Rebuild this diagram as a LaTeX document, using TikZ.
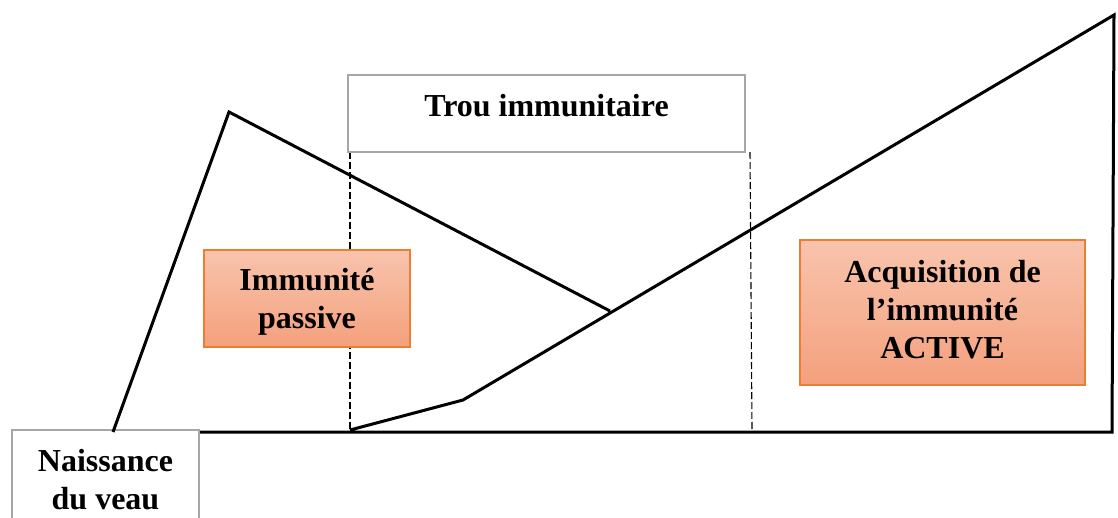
\documentclass[tikz,border=0pt]{standalone}
\usepackage{fontspec}
\setmainfont{Liberation Serif}
\definecolor{boxtop}{HTML}{F8C4AD}
\definecolor{boxbot}{HTML}{F4A07D}
\definecolor{boxedge}{HTML}{ED7D31}
\begin{document}
\begin{tikzpicture}[x=1pt,y=-1pt,
  curve/.style={line width=3pt,line join=miter},
  guide/.style={line width=1.1pt,dash pattern=on 7pt off 3pt},
  graybox/.style={draw=black!35,line width=1.2pt,fill=white},
  orangebox/.style={draw=boxedge,line width=1.2pt,top color=boxtop,bottom color=boxbot},
  lbl/.style={align=center,font=\bfseries\fontsize{32}{38}\selectfont,inner sep=0pt}]
\useasboundingbox (0,0) rectangle (1118,517);
% coordinates
\coordinate (p0) at (113,432);
\coordinate (p1) at (229,112);
\coordinate (p2) at (610,311);
\coordinate (a0) at (350,430);
\coordinate (a1) at (463,400);
\coordinate (a2) at (1114,15);
\coordinate (a3) at (1112,432);
\coordinate (bl) at (200,432);
\coordinate (d1t) at (350,152);
\coordinate (d1b) at (350,430);
\coordinate (d2t) at (750,152);
\coordinate (d2b) at (752,430);
% dashed guides
\draw[guide] (d1t) -- (d1b);
\draw[guide] (d2t) -- (d2b);
% boxes
\node[graybox,minimum width=397pt,minimum height=77pt] (trou) at (546.5,113.5) {};
\node[lbl] (troutxt) at (546.5,106) {Trou immunitaire};
\node[graybox,minimum width=187pt,minimum height=100pt] (naiss) at (105.5,480) {};
\node[lbl] (naisstxt) at (105.5,480) {Naissance\\du veau};
\node[orangebox,minimum width=206pt,minimum height=97pt] (passive) at (307,298.5) {};
\node[lbl] (passivetxt) at (307,302) {Immunité\\passive};
\node[orangebox,minimum width=285pt,minimum height=145pt] (active) at (942.5,312.5) {};
\node[lbl] (activetxt) at (942.5,310) {Acquisition de\\l’immunité\\ACTIVE};
% curves
\draw[curve] (p0) -- (p1) -- (p2);
\draw[curve] (a0) -- (a1) -- (a2) -- (a3) -- (bl);
\end{tikzpicture}
\end{document}
